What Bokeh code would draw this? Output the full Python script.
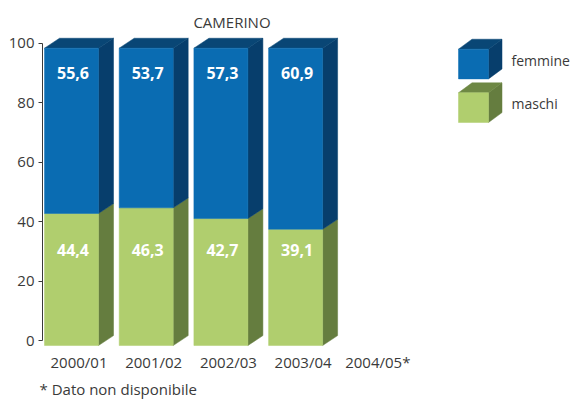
from bokeh.plotting import figure
from bokeh.models import FixedTicker, ColumnDataSource, Range1d, Title
from bokeh.core.properties import value
from bokeh.embed import file_html
from bokeh.resources import INLINE

# ---- data ----
categories = ["2000/01", "2001/02", "2002/03", "2003/04", "2004/05*"]
femmine = [55.6, 53.7, 57.3, 60.9, None]
maschi = [44.4, 46.3, 42.7, 39.1, None]
y_ticks = [0, 20, 40, 60, 80, 100]
title_text = "CAMERINO"
footnote = "* Dato non disponibile"
series_names = ["femmine", "maschi"]

# ---- style ----
FONT = "Open Sans"
TXT = "#3a3a3a"
BLUE_F, BLUE_S, BLUE_T = "#0A6CB2", "#073E6C", "#094675"
GREEN_F, GREEN_S, GREEN_T = "#B0CE6E", "#657D3F", "#6E8844"

PX_X = 74.7      # pixels per category
PX_Y = 3.0       # pixels per unit
DEPTH_X = 15 / PX_X
DEPTH_Y = 10 / PX_Y
FRONT_W = 54 / PX_X
HALF = DEPTH_Y / 2

W, H = 571, 400
LEFT, RIGHT, TOP, BOTTOM = 42, 0, 8, 50
FW = W - LEFT - RIGHT
FH = H - TOP - BOTTOM
X0_PAGE, Y0_PAGE = 78.5, 343.0
frame_left_page = LEFT
frame_top_page = TOP
x_start = (frame_left_page - X0_PAGE) / PX_X
x_end = x_start + FW / PX_X
y_end = (Y0_PAGE - frame_top_page) / PX_Y
y_start = y_end - FH / PX_Y


def px2x(px):
    return (px - X0_PAGE) / PX_X


def py2y(py):
    return (Y0_PAGE - py) / PX_Y


p = figure(width=W, height=H, output_backend="svg", toolbar_location=None,
           x_range=Range1d(x_start, x_end), y_range=Range1d(y_start, y_end),
           min_border_left=LEFT, min_border_right=RIGHT,
           min_border_top=TOP, min_border_bottom=BOTTOM)
p.outline_line_color = None
p.grid.visible = False
p.background_fill_color = "white"
p.border_fill_color = "white"

# ---- 3D stacked bars ----
fronts = dict(left=[], right=[], bottom=[], top=[], color=[])
polys = dict(xs=[], ys=[], color=[])
for i, (f, m) in enumerate(zip(femmine, maschi)):
    if f is None or m is None:
        continue
    fl = i - (FRONT_W + DEPTH_X) / 2
    fr = fl + FRONT_W
    segs = [(0, m, GREEN_F, GREEN_S, GREEN_T), (m, m + f, BLUE_F, BLUE_S, BLUE_T)]
    for k, (y0, y1, cf, cs, ct) in enumerate(segs):
        fronts["left"].append(fl); fronts["right"].append(fr)
        fronts["bottom"].append(y0 - HALF); fronts["top"].append(y1 - HALF)
        fronts["color"].append(cf)
        polys["xs"].append([fr, fr + DEPTH_X, fr + DEPTH_X, fr])
        polys["ys"].append([y0 - HALF, y0 + HALF, y1 + HALF, y1 - HALF])
        polys["color"].append(cs)
        if k == len(segs) - 1:
            polys["xs"].append([fl, fl + DEPTH_X, fr + DEPTH_X, fr])
            polys["ys"].append([y1 - HALF, y1 + HALF, y1 + HALF, y1 - HALF])
            polys["color"].append(ct)

p.patches("xs", "ys", color="color", source=ColumnDataSource(polys), line_width=0.5)
p.quad(left="left", right="right", bottom="bottom", top="top", color="color",
       source=ColumnDataSource(fronts), line_width=0.5)

# value labels
lab = dict(x=[], y=[], t=[])
for i, (f, m) in enumerate(zip(femmine, maschi)):
    if f is None:
        continue
    cx = i - (FRONT_W + DEPTH_X) / 2 + FRONT_W / 2 + 0.02
    lab["x"] += [cx, cx]
    lab["y"] += [90, 30.3]
    lab["t"] += [f"{f:.1f}".replace(".", ","), f"{m:.1f}".replace(".", ",")]
p.text("x", "y", text="t", source=ColumnDataSource(lab), text_color="white",
       text_font=value(FONT), text_font_style="bold", text_font_size="16px",
       text_align="center", text_baseline="middle")

# ---- axes ----
xa = p.xaxis[0]
xa.ticker = FixedTicker(ticks=list(range(len(categories))))
xa.major_label_overrides = {i: c for i, c in enumerate(categories)}
xa.axis_line_color = None
xa.major_tick_line_color = None
xa.minor_tick_line_color = None
xa.major_tick_out = 0
xa.major_tick_in = 0
xa.major_label_standoff = 4
xa.major_label_text_font = FONT
xa.major_label_text_font_size = "15px"
xa.major_label_text_color = TXT

ya = p.yaxis[0]
ya.ticker = FixedTicker(ticks=y_ticks)
ya.bounds = (0, 100)
ya.axis_line_color = TXT
ya.major_tick_line_color = TXT
ya.major_tick_out = 4
ya.major_tick_in = 0
ya.minor_tick_line_color = None
ya.major_label_standoff = 4
ya.major_label_text_font = FONT
ya.major_label_text_font_size = "15px"
ya.major_label_text_color = TXT

# ---- title ----
p.text(x=[px2x(231.5)], y=[py2y(21.5)], text=[title_text], text_font=value(FONT),
       text_font_size="15px", text_color=TXT, text_align="center", text_baseline="middle")

# ---- legend (3D cubes) ----
leg = dict(left=[], right=[], bottom=[], top=[], color=[])
lpoly = dict(xs=[], ys=[], color=[])
ltxt = dict(x=[], y=[], t=[])
for name, front_top, cf, cs, ct in [(series_names[0], 49, BLUE_F, BLUE_S, BLUE_T),
                                    (series_names[1], 93, GREEN_F, GREEN_S, GREEN_T)]:
    l, r = px2x(458), px2x(488)
    t, b = py2y(front_top), py2y(front_top + 30)
    ddx, ddy = 13.5 / PX_X, 10 / PX_Y
    leg["left"].append(l); leg["right"].append(r)
    leg["bottom"].append(b); leg["top"].append(t); leg["color"].append(cf)
    lpoly["xs"] += [[r, r + ddx, r + ddx, r], [l, l + ddx, r + ddx, r]]
    lpoly["ys"] += [[b, b + ddy, t + ddy, t], [t, t + ddy, t + ddy, t]]
    lpoly["color"] += [cs, ct]
    ltxt["x"].append(px2x(511)); ltxt["y"].append(py2y(front_top + 11)); ltxt["t"].append(name)
p.patches("xs", "ys", color="color", source=ColumnDataSource(lpoly), line_width=0.5)
p.quad(left="left", right="right", bottom="bottom", top="top", color="color",
       source=ColumnDataSource(leg), line_width=0.5)
p.text("x", "y", text="t", source=ColumnDataSource(ltxt), text_font=value(FONT),
       text_font_size="14px", text_color=TXT, text_align="left", text_baseline="middle")

# ---- footnote ----
fn = Title(text=footnote, align="left", text_font=FONT, text_font_size="15px",
           text_font_style="normal", text_color=TXT, offset=-3, standoff=4)
p.add_layout(fn, "below")

open("out.html", "w").write(file_html(p, INLINE))
